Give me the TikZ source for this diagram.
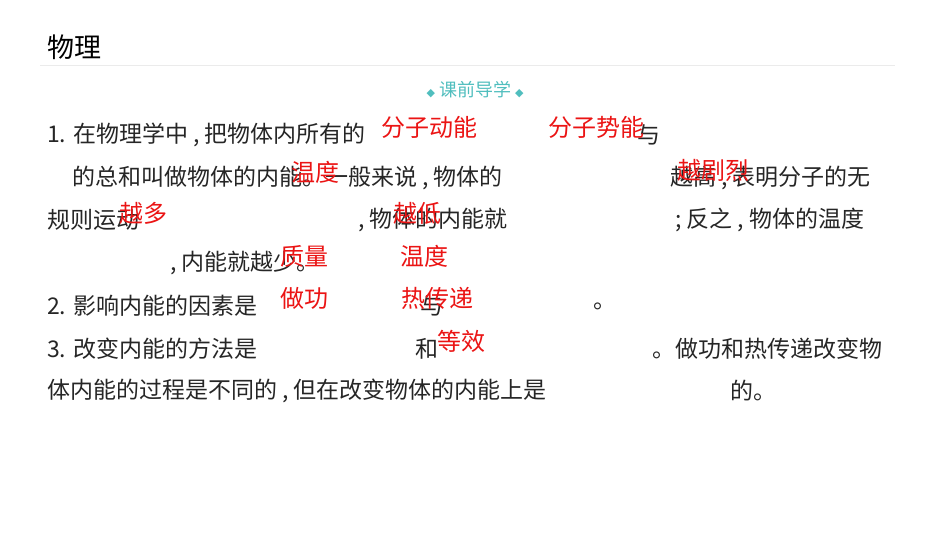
\documentclass[tikz,border=0pt]{standalone}
\usepackage{fontspec}
\setmainfont{Noto Sans CJK SC}
\newfontfamily\symfont{DejaVu Sans}
\definecolor{teal}{RGB}{80,190,190}
\definecolor{ansred}{RGB}{235,20,20}
\tikzset{
  body/.style={anchor=west, inner sep=0pt, font=\fontsize{23}{23}\selectfont, text=black!85},
  answer/.style={anchor=west, inner sep=0pt, font=\fontsize{24}{24}\selectfont, text=ansred}
}
\begin{document}
\begin{tikzpicture}[x=1pt,y=-1pt]
\useasboundingbox (0,0) rectangle (950,535);
\fill[white] (0,0) rectangle (950,535);
% title and header
\node[anchor=west, inner sep=0pt, font=\fontsize{27}{27}\selectfont] (title) at (47,47) {物理};
\draw[black!8] (40,65) -- (895,65);
\node[inner sep=0pt, font=\fontsize{18}{18}\selectfont, text=teal] (head) at (475,90)
  {{\symfont\fontsize{11}{11}\selectfont ◆}\ 课前导学\ {\symfont\fontsize{11}{11}\selectfont ◆}};
% body text
\node[body] (l1a) at (47,135) {1. 在物理学中 , 把物体内所有的};
\node[body] (l1b) at (637,135) {与};
\node[body] (l2a) at (72,178) {的总和叫做物体的内能。一般来说 , 物体的};
\node[body] (l2b) at (670,178) {越高 , 表明分子的无};
\node[body] (l3a) at (47,220) {规则运动};
\node[body] (l3b) at (358,220) {, 物体的内能就};
\node[body] (l3c) at (675,220) {; 反之 , 物体的温度};
\node[body] (l4a) at (170,263) {, 内能就越少。};
\node[body] (l5a) at (47,306) {2. 影响内能的因素是};
\node[body] (l5b) at (420,306) {与};
\node[body] (l5c) at (593,306) {。};
\node[body] (l6a) at (47,349) {3. 改变内能的方法是};
\node[body] (l6b) at (415,349) {和};
\node[body] (l6c) at (652,349) {。做功和热传递改变物};
\node[body] (l7a) at (47,391) {体内能的过程是不同的 , 但在改变物体的内能上是};
\node[body] (l7b) at (730,391) {的。};
% answers
\node[answer] (a1) at (381,127) {分子动能};
\node[answer] (a2) at (548,127) {分子势能};
\node[answer] (a3) at (291,172) {温度};
\node[answer] (a4) at (677,170) {越剧烈};
\node[answer] (a5) at (119,213) {越多};
\node[answer] (a6) at (393,213) {越低};
\node[answer] (a7) at (280,256) {质量};
\node[answer] (a8) at (400,256) {温度};
\node[answer] (a9) at (280,298) {做功};
\node[answer] (a10) at (401,298) {热传递};
\node[answer] (a11) at (437,341) {等效};
\end{tikzpicture}
\end{document}
